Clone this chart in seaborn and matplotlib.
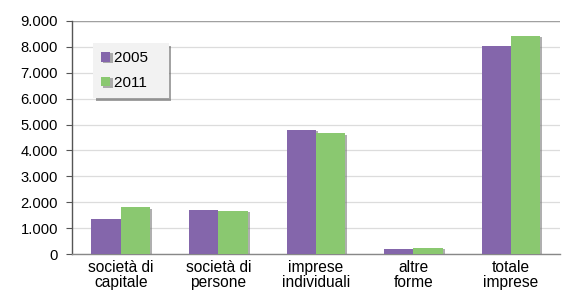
import pandas as pd
import seaborn as sns
import matplotlib.pyplot as plt
import matplotlib.patheffects as pe
from matplotlib.ticker import FuncFormatter, FixedLocator

# values
categories = ['società di\ncapitale', 'società di\npersone', 'imprese\nindividuali',
              'altre\nforme', 'totale\nimprese']
years = ['2005', '2011']
values_2005 = [1340, 1700, 4790, 190, 8020]
values_2011 = [1800, 1670, 4660, 240, 8420]
colors = ['#8466AB', '#8AC870']

df = pd.DataFrame({
    'categoria': categories * 2,
    'anno': [years[0]] * len(categories) + [years[1]] * len(categories),
    'valore': values_2005 + values_2011,
})

sns.set_theme(style='white')
plt.rcParams['font.family'] = ['Liberation Sans', 'DejaVu Sans']

fig = plt.figure(figsize=(5.62, 2.99), dpi=100)
ax = fig.add_axes([0.128, 0.1505, 0.868, 0.7795])

sns.barplot(data=df, x='categoria', y='valore', hue='anno', palette=colors,
            width=0.6, saturation=1, ax=ax, zorder=3)

shadow = [pe.SimplePatchShadow(offset=(1.5, -1.0), shadow_rgbFace='#7a7a7a', alpha=0.6),
          pe.Normal()]
for p in ax.patches:
    p.set_path_effects(shadow)
    p.set_linewidth(0)

ax.set_ylim(0, 9000)
ax.set_xlim(-0.5, len(categories) - 0.5)
ax.set_yticks(range(0, 9001, 1000))
ax.yaxis.set_major_formatter(FuncFormatter(lambda v, _: f'{int(v):,}'.replace(',', '.')))
ax.grid(axis='y', color='#dcdcdc', linewidth=0.9, zorder=0)
ax.axhline(9000, color='#a0a0a0', linewidth=1.0, zorder=1)

ax.set_xlabel('')
ax.set_ylabel('')
ax.tick_params(axis='x', which='major', length=0, labelsize=11.2, pad=4, colors='black')
ax.xaxis.set_minor_locator(FixedLocator([0.5, 1.5, 2.5, 3.5]))
ax.tick_params(axis='x', which='minor', length=3, width=0.8, color='#555555', direction='out')
ax.tick_params(axis='y', length=4, width=0.8, color='#555555', labelsize=10.6, pad=6,
               direction='out', left=True)
for t in ax.get_yticklabels() + ax.get_xticklabels():
    t.set_color('black')
for t in ax.get_xticklabels():
    t.set_linespacing(1.0)

for side in ['top', 'right']:
    ax.spines[side].set_visible(False)
ax.spines['left'].set_color('#555555')
ax.spines['left'].set_linewidth(1.0)
ax.spines['bottom'].set_color('#888888')
ax.spines['bottom'].set_linewidth(1.0)

handles, labels = ax.get_legend_handles_labels()
leg = ax.legend(handles, [l + '   ' for l in labels], loc='upper left',
                bbox_to_anchor=(0.043, 0.906), frameon=True,
                fancybox=False, shadow=True, facecolor='#f2f2f2', edgecolor='#f2f2f2',
                fontsize=11, handlelength=0.6, handleheight=0.6, handletextpad=0.2,
                labelspacing=0.7, borderpad=0.55, borderaxespad=0)
leg.get_frame().set_linewidth(0)
for t in leg.get_texts():
    t.set_color('black')

fig.savefig('out.png', dpi=100)
